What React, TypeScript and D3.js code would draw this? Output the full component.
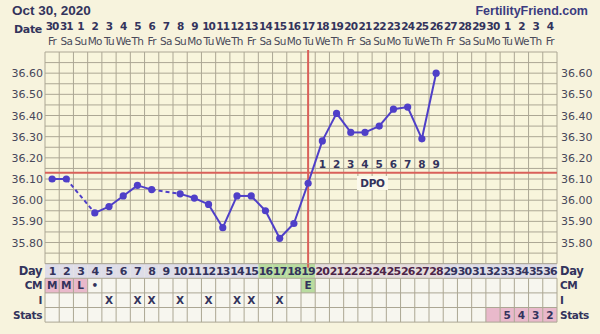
import React from "react";
import * as d3 from "d3";

const title = "Oct 30, 2020";
const brand = "FertilityFriend.com";
const dates = [30, 31, 1, 2, 3, 4, 5, 6, 7, 8, 9, 10, 11, 12, 13, 14, 15, 16, 17, 18, 19, 20, 21, 22, 23, 24, 25, 26, 27, 28, 29, 30, 1, 2, 3, 4];
const weekdays = ["Fr", "Sa", "Su", "Mo", "Tu", "We", "Th"];
const cycleDays = d3.range(1, 37);
// BBT per cycle day (null = not recorded)
const temps: (number | null)[] = [36.10, 36.10, null, 35.94, 35.97, 36.02, 36.07, 36.05, null, 36.03, 36.01, 35.98, 35.87, 36.02, 36.02, 35.95, 35.82, 35.89, 36.08, 36.28, 36.41, 36.32, 36.32, 36.35, 36.43, 36.44, 36.29, 36.60];
const yTicks = [36.6, 36.5, 36.4, 36.3, 36.2, 36.1, 36.0, 35.9, 35.8];
const coverline = 36.13;
const ovulationDay = 19;
const dpoLabels = [1, 2, 3, 4, 5, 6, 7, 8, 9];
const fertileDays = [16, 17, 18, 19];
const cmEntries: [number, string, string][] = [[1, "M", "pink"], [2, "M", "pink"], [3, "L", "pink"], [4, "•", ""], [19, "E", "green"]];
const intercourseDays = [5, 7, 8, 10, 12, 14, 15, 17];
const statsPink = [32, 33, 34, 35, 36];
const statsValues: [number, string][] = [[33, "5"], [34, "4"], [35, "3"], [36, "2"]];
const rowLabels = ["Day", "CM", "I", "Stats"];

const W = 600, H = 334;
const gx0 = 45, gx1 = 557;
const gyTop = 52, gyBot = 263.7;
const rowH = 14.6;

const FONT = "'DejaVu Sans', Verdana, sans-serif";
const HEAD_FONT = "'Liberation Sans', Arial, sans-serif";
const NAVY = "#33335c";
const GRID = "#aca794";
const PURPLE = "#4f3fc8";
const RED = "#d9605a";

export default function App() {
  const x = d3.scaleBand<number>().domain(cycleDays).range([gx0, gx1]);
  const cx = (d: number) => (x(d) as number) + x.bandwidth() / 2;
  const y = d3.scaleLinear().domain([35.7, 36.7]).range([gyBot, gyTop]);
  const bw = x.bandwidth();

  const pts = temps.map((t, i) => ({ day: i + 1, t })).filter((p) => p.t !== null) as { day: number; t: number }[];
  const solid: [typeof pts[0], typeof pts[0]][] = [];
  const dashed: [typeof pts[0], typeof pts[0]][] = [];
  for (let i = 1; i < pts.length; i++) {
    const a = pts[i - 1], b = pts[i];
    (b.day - a.day === 1 ? solid : dashed).push([a, b]);
  }
  const seg = d3.line<{ day: number; t: number }>().x((p) => cx(p.day)).y((p) => y(p.t));

  const hLines = d3.range(35.7, 36.7001, 0.05);
  const rowY = (r: number) => gyBot + r * rowH;

  const dayBg = (d: number) => (fertileDays.includes(d) ? "#b9dca0" : d >= 20 && d <= 28 ? "#e4dcdc" : "#dedde8");
  const dayColor = (d: number) => (d >= 20 && d <= 28 ? "#4d2448" : NAVY);

  return (
    <svg width={W} height={H} style={{ position: "absolute", left: 0, top: 0, background: "#f7f3dd" }}>
      <rect x={0} y={0} width={W} height={H} fill="#f7f3dd" />
      <text x={12} y={15} fontFamily={HEAD_FONT} fontWeight="bold" fontSize={13.5} fill={NAVY}>{title}</text>
      <text x={588} y={15} textAnchor="end" fontFamily={HEAD_FONT} fontWeight="bold" fontSize={12.5} fill="#3b3b80">{brand}</text>

      <text x={42} y={33} textAnchor="end" fontFamily={FONT} fontWeight="bold" fontSize={11} letterSpacing={-0.3} fill={NAVY}>Date</text>
      {dates.map((d, i) => (
        <text key={"dt" + i} x={cx(i + 1)} y={29.5} textAnchor="middle" fontFamily={FONT} fontWeight="bold" fontSize={10.5} letterSpacing={-0.9} fill={NAVY}>{d}</text>
      ))}
      {dates.map((_, i) => (
        <text key={"wd" + i} x={cx(i + 1)} y={45} textAnchor="middle" fontFamily={FONT} fontSize={10.5} letterSpacing={-0.7} fill="#4a4a5a">{weekdays[i % 7]}</text>
      ))}

      {/* chart grid */}
      <rect x={gx0} y={gyTop} width={gx1 - gx0} height={gyBot - gyTop} fill="#f8f5dc" />
      {hLines.map((v, i) => (
        <line key={"h" + i} x1={gx0} x2={gx1} y1={y(v)} y2={y(v)} stroke={GRID} strokeWidth={1} />
      ))}
      {cycleDays.concat([37]).map((d) => (
        <line key={"v" + d} x1={d === 37 ? gx1 : (x(d) as number)} x2={d === 37 ? gx1 : (x(d) as number)} y1={gyTop} y2={gyBot} stroke={GRID} strokeWidth={1} />
      ))}

      {/* y-axis labels */}
      {yTicks.map((v) => (
        <g key={"yt" + v}>
          <text x={43} y={y(v) + 4} textAnchor="end" fontFamily={FONT} fontSize={11} fill="#47475a">{v.toFixed(2)}</text>
          <text x={561} y={y(v) + 4} fontFamily={FONT} fontSize={11} fill="#47475a">{v.toFixed(2)}</text>
        </g>
      ))}

      {/* coverline and ovulation line */}
      <line x1={gx0} x2={gx1} y1={y(coverline)} y2={y(coverline)} stroke={RED} strokeWidth={2} />
      <line x1={cx(ovulationDay)} x2={cx(ovulationDay)} y1={gyTop - 2} y2={gyBot} stroke={RED} strokeWidth={2} />

      {dpoLabels.map((n, i) => (
        <text key={"dpo" + n} x={cx(ovulationDay + 1 + i)} y={y(coverline) - 5} textAnchor="middle" fontFamily={FONT} fontWeight="bold" fontSize={10.5} fill={NAVY}>{n}</text>
      ))}
      <rect x={357} y={176} width={31} height={14} fill="#fbf9ec" />
      <text x={372.5} y={187} textAnchor="middle" fontFamily={FONT} fontWeight="bold" fontSize={10.5} letterSpacing={-0.3} fill={NAVY}>DPO</text>

      {/* temperature line */}
      {solid.map((s, i) => (
        <path key={"s" + i} d={seg(s) as string} stroke={PURPLE} strokeWidth={2} fill="none" />
      ))}
      {dashed.map((s, i) => (
        <path key={"d" + i} d={seg(s) as string} stroke={PURPLE} strokeWidth={2} strokeDasharray="4,3" fill="none" />
      ))}
      {pts.map((p) => (
        <circle key={"p" + p.day} cx={cx(p.day)} cy={y(p.t)} r={3.6} fill={PURPLE} />
      ))}

      {/* bottom rows */}
      {cycleDays.map((d) => (
        <g key={"r" + d}>
          <rect x={x(d)} y={rowY(0)} width={bw} height={rowH} fill={dayBg(d)} />
          <rect x={x(d)} y={rowY(1)} width={bw} height={rowH * 3} fill="#f7f6ef" />
        </g>
      ))}
      {cmEntries.map(([d, , c]) => c ? (
        <rect key={"cmb" + d} x={x(d)} y={rowY(1)} width={bw} height={rowH} fill={c === "pink" ? "#e9b9cb" : "#b9dca0"} />
      ) : null)}
      {statsPink.map((d) => (
        <rect key={"sp" + d} x={x(d)} y={rowY(3)} width={bw} height={rowH} fill="#e9b9cb" />
      ))}
      {[0, 1, 2, 3, 4].map((r) => (
        <line key={"rh" + r} x1={gx0} x2={gx1} y1={rowY(r)} y2={rowY(r)} stroke={GRID} strokeWidth={1} />
      ))}
      {cycleDays.concat([37]).map((d) => (
        <line key={"rv" + d} x1={d === 37 ? gx1 : (x(d) as number)} x2={d === 37 ? gx1 : (x(d) as number)} y1={rowY(1)} y2={rowY(4)} stroke={GRID} strokeWidth={1} />
      ))}
      <line x1={cx(ovulationDay)} x2={cx(ovulationDay)} y1={gyBot} y2={gyBot + 4} stroke={RED} strokeWidth={2} />

      {cycleDays.map((d) => (
        <text key={"dn" + d} x={cx(d)} y={rowY(0) + 11.5} textAnchor="middle" fontFamily={FONT} fontWeight="bold" fontSize={11} letterSpacing={-0.9} fill={dayColor(d)}>{d}</text>
      ))}
      {cmEntries.map(([d, s]) => (
        <text key={"cm" + d} x={cx(d)} y={rowY(1) + 11} textAnchor="middle" fontFamily={FONT} fontWeight="bold" fontSize={10.5} fill={NAVY}>{s}</text>
      ))}
      {intercourseDays.map((d) => (
        <text key={"i" + d} x={cx(d)} y={rowY(2) + 11} textAnchor="middle" fontFamily={FONT} fontWeight="bold" fontSize={10.5} fill={NAVY}>X</text>
      ))}
      {statsValues.map(([d, s]) => (
        <text key={"st" + d} x={cx(d)} y={rowY(3) + 11} textAnchor="middle" fontFamily={FONT} fontWeight="bold" fontSize={10.5} fill={NAVY}>{s}</text>
      ))}

      {rowLabels.map((l, r) => (
        <g key={"rl" + l}>
          <text x={42} y={rowY(r) + 11} textAnchor="end" fontFamily={FONT} fontWeight="bold" fontSize={r === 0 ? 11.5 : 10.5} letterSpacing={-0.4} fill={NAVY}>{l}</text>
          <text x={560} y={rowY(r) + 11} fontFamily={FONT} fontWeight="bold" fontSize={r === 0 ? 11.5 : 10.5} letterSpacing={-0.4} fill={NAVY}>{l}</text>
        </g>
      ))}
    </svg>
  );
}
